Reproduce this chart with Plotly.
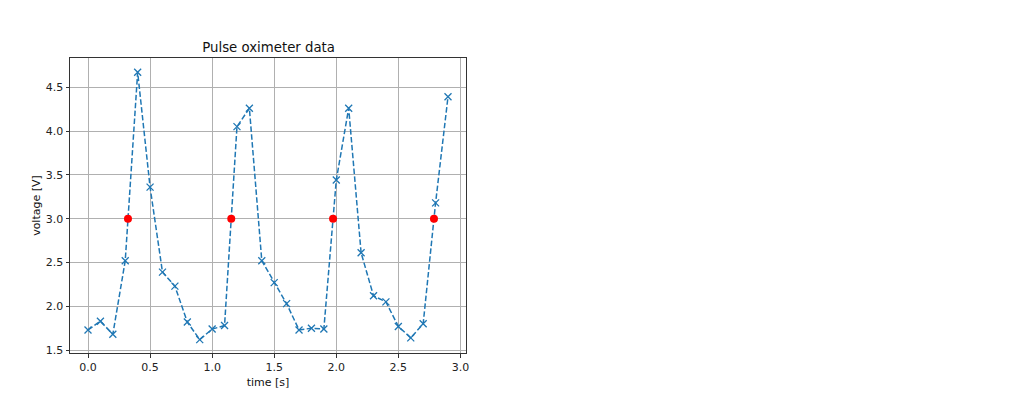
import plotly.graph_objects as go

time_s = [0.0, 0.1, 0.2, 0.3, 0.4, 0.5, 0.6, 0.7, 0.8, 0.9,
          1.0, 1.1, 1.2, 1.3, 1.4, 1.5, 1.6, 1.7, 1.8, 1.9,
          2.0, 2.1, 2.2, 2.3, 2.4, 2.5, 2.6, 2.7, 2.8, 2.9]
voltage = [1.73, 1.83, 1.68, 2.52, 4.67, 3.36, 2.39, 2.23, 1.82, 1.62,
           1.74, 1.78, 4.05, 4.26, 2.52, 2.27, 2.03, 1.73, 1.75, 1.74,
           3.44, 4.26, 2.61, 2.12, 2.05, 1.77, 1.64, 1.80, 3.18, 4.39]
cross_t = [0.322, 1.154, 1.974, 2.787]
cross_v = [3.0, 3.0, 3.0, 3.0]

x_ticks = [0.0, 0.5, 1.0, 1.5, 2.0, 2.5, 3.0]
y_ticks = [1.5, 2.0, 2.5, 3.0, 3.5, 4.0, 4.5]

fig = go.Figure()
fig.add_trace(go.Scatter(
    x=time_s, y=voltage, mode="lines+markers",
    line=dict(color="#1f77b4", width=1.5, dash="5.5px,2.4px"),
    marker=dict(symbol="x-thin", size=7, line=dict(color="#1f77b4", width=1.3)),
    showlegend=False,
))
fig.add_trace(go.Scatter(
    x=cross_t, y=cross_v, mode="markers",
    marker=dict(symbol="circle", size=8, color="red"),
    showlegend=False,
))

axis_common = dict(
    showgrid=True, gridcolor="#b0b0b0", gridwidth=0.8,
    showline=True, linecolor="#333333", linewidth=1, mirror=True,
    ticks="outside", ticklen=3.5, tickwidth=0.8, tickcolor="#333333",
    zeroline=False,
    tickfont=dict(family="DejaVu Sans", size=11, color="#222222"),
)

fig.update_layout(
    width=1024, height=404,
    margin=dict(l=62, r=566, t=50, b=59),
    paper_bgcolor="white", plot_bgcolor="white",
    title=dict(text="Pulse oximeter data", x=0.2545, xanchor="center",
               y=0.892, yanchor="bottom",
               font=dict(family="DejaVu Sans", size=13.3, color="#111111")),
    xaxis=dict(range=[-0.145, 3.045], tickvals=x_ticks,
               ticktext=[f"{v:.1f}" for v in x_ticks],
               title=dict(text="time [s]", standoff=5,
                          font=dict(family="DejaVu Sans", size=11, color="#111111")),
               **axis_common),
    yaxis=dict(range=[1.467, 4.833], tickvals=y_ticks,
               ticktext=[f"{v:.1f}" for v in y_ticks],
               title=dict(text="voltage [V]", standoff=2,
                          font=dict(family="DejaVu Sans", size=11, color="#111111")),
               **axis_common),
)

fig.write_html("out.html")
